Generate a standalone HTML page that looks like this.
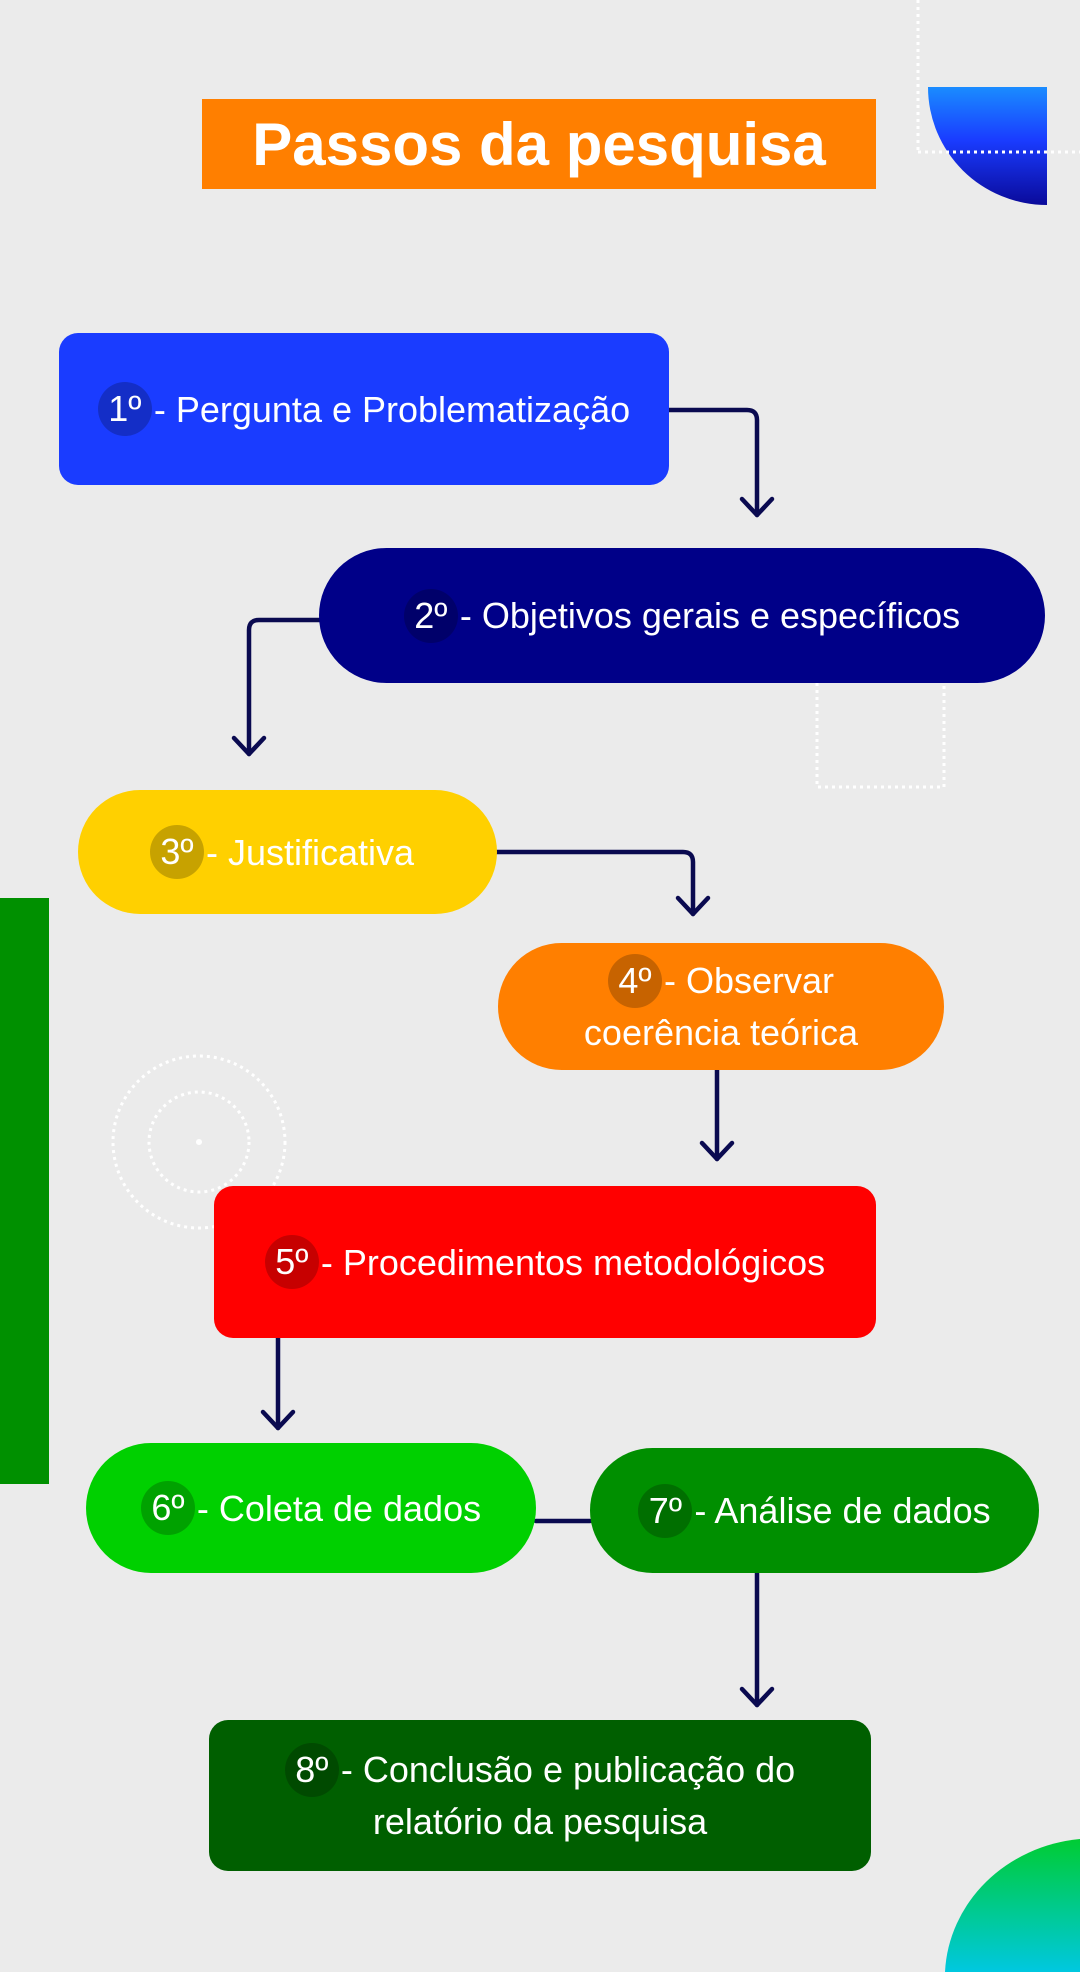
<!DOCTYPE html>
<html><head><meta charset="utf-8"><style>
*{margin:0;padding:0;box-sizing:border-box}
body{width:1080px;height:1972px;position:relative;overflow:hidden;background:#ebebeb;font-family:"Liberation Sans",sans-serif;}
.b{position:absolute;display:flex;align-items:center;justify-content:center;color:#fff;font-size:36px;text-align:center;line-height:49px}
.n{display:inline-block;width:54px;height:54px;border-radius:50%;background:rgba(0,0,0,0.22);line-height:54px;text-align:center;margin-right:2px;vertical-align:middle}
</style></head><body>
<svg width="1080" height="1972" style="position:absolute;left:0;top:0">
<defs>
<linearGradient id="g1" x1="0" y1="0" x2="0" y2="1"><stop offset="0" stop-color="#1a8cff"/><stop offset="0.45" stop-color="#1a3cff"/><stop offset="1" stop-color="#0a0a9a"/></linearGradient>
<linearGradient id="g2" x1="0" y1="0" x2="0" y2="1"><stop offset="0" stop-color="#00cc33"/><stop offset="1" stop-color="#00c8e0"/></linearGradient>
</defs>
<path d="M928 87 H1047 V205 A119 118 0 0 1 928 87 Z" fill="url(#g1)"/>
<path d="M945 1972 A150 140 0 0 1 1080 1839 V1972 Z" fill="url(#g2)"/>
<g stroke="#fff" stroke-width="3" stroke-dasharray="3 4" fill="none">
<line x1="918" y1="0" x2="918" y2="152"/><line x1="918" y1="152" x2="1080" y2="152"/>
<rect x="817" y="659" width="127" height="128"/>
<circle cx="199" cy="1142" r="86"/><circle cx="199" cy="1142" r="50"/>
</g>
<circle cx="199" cy="1142" r="3" fill="#fff"/>
<rect x="0" y="898" width="49" height="586" fill="#009000"/>
<g stroke="#0a0a50" stroke-width="4.5" fill="none" stroke-linecap="round" stroke-linejoin="round">
<path d="M669 410 H747 Q757 410 757 420 V515"/><path d="M742 499 L757 515 L772 499"/>
<path d="M319 620 H259 Q249 620 249 630 V754"/><path d="M234 738 L249 754 L264 738"/>
<path d="M497 852 H683 Q693 852 693 862 V914"/><path d="M678 898 L693 914 L708 898"/>
<path d="M717 1070 V1159"/><path d="M702 1143 L717 1159 L732 1143"/>
<path d="M278 1338 V1428"/><path d="M263 1412 L278 1428 L293 1412"/>
<path d="M536 1521 H590"/>
<path d="M757 1573 V1705"/><path d="M742 1689 L757 1705 L772 1689"/>
</g>
</svg>
<div class="b" style="left:202px;top:99px;width:674px;height:90px;background:#ff7f00;font-size:60px;font-weight:bold">Passos da pesquisa</div>
<div class="b" style="left:59px;top:333px;width:610px;height:152px;background:#1a3cff;border-radius:19px"><span class="n">1º</span>- Pergunta e Problematização</div>
<div class="b" style="left:319px;top:548px;width:726px;height:135px;background:#000088;border-radius:68px"><span class="n">2º</span>- Objetivos gerais e específicos</div>
<div class="b" style="left:78px;top:790px;width:419px;height:124px;background:#ffd000;border-radius:62px;justify-content:flex-start;padding-left:72px"><span class="n">3º</span>- Justificativa</div>
<div class="b" style="left:498px;top:943px;width:446px;height:127px;background:#ff7f00;border-radius:64px"><div><span class="n" style="margin-top:-6px">4º</span>- Observar<br>coerência teórica</div></div>
<div class="b" style="left:214px;top:1186px;width:662px;height:152px;background:#ff0000;border-radius:19px"><span class="n">5º</span>- Procedimentos metodológicos</div>
<div class="b" style="left:86px;top:1443px;width:450px;height:130px;background:#00d000;border-radius:65px"><span class="n">6º</span>- Coleta de dados</div>
<div class="b" style="left:590px;top:1448px;width:449px;height:125px;background:#008f00;border-radius:63px"><span class="n">7º</span>- Análise de dados</div>
<div class="b" style="left:209px;top:1720px;width:662px;height:151px;background:#005f00;border-radius:19px"><div><span class="n" style="margin-top:-6px">8º</span>- Conclusão e publicação do<br>relatório da pesquisa</div></div>
</body></html>
